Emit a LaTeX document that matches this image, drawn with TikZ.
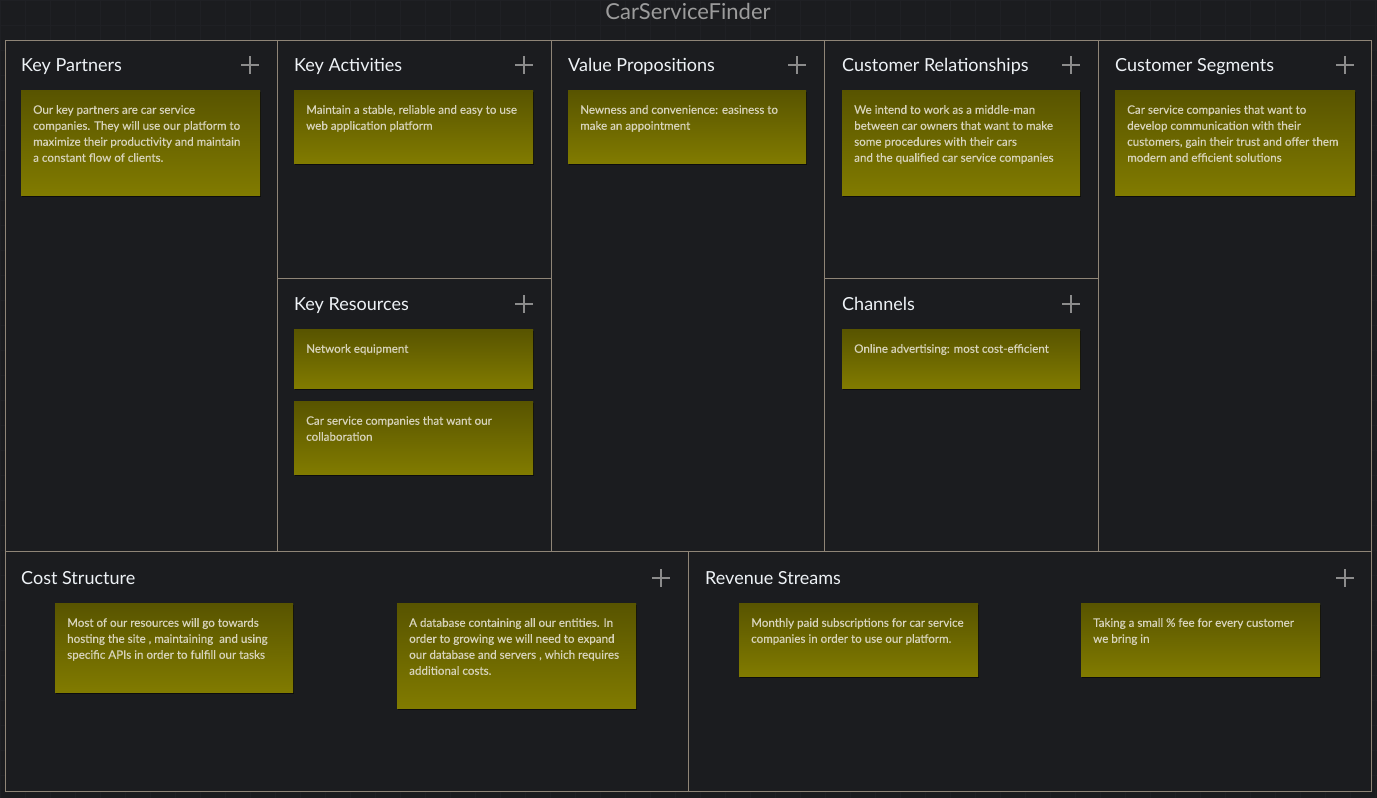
\documentclass[tikz,border=0pt]{standalone}
\usepackage{fontspec}
\setmainfont{Lato}
\newfontfamily\notefont[FakeBold=0.3]{Lato}
\usetikzlibrary{shadows}
\definecolor{bg}{HTML}{1B1C1F}
\definecolor{gridc}{HTML}{1F2024}
\definecolor{frame}{HTML}{8F8577}
\definecolor{titlec}{HTML}{EEF2F6}
\definecolor{headc}{HTML}{9C9C9C}
\definecolor{plusc}{HTML}{8C8C8C}
\definecolor{notetop}{HTML}{585400}
\definecolor{notebot}{HTML}{817B00}
\definecolor{notetxt}{HTML}{D8D4BC}
\tikzset{
  cell/.style={draw=frame, line width=0.9pt},
  sectitle/.style={anchor=base west, inner sep=0pt, text=titlec, font=\fontsize{18}{20}\selectfont},
  plussign/.style={draw=plusc, line width=1.8pt},
  notebox/.style={anchor=north west, inner sep=0pt, rectangle, top color=notetop, bottom color=notebot,
    drop shadow={shadow xshift=1pt, shadow yshift=-2pt, opacity=0.55, fill=black}},
  notetext/.style={anchor=north west, inner sep=0pt, xshift=12pt, yshift=-15pt, align=left,
    text=notetxt, font=\notefont\fontsize{11.6}{16}\selectfont},
}
\newcommand{\plusat}[2]{\draw[plussign] (#1-9,#2) -- (#1+9,#2); \draw[plussign] (#1,#2-9) -- (#1,#2+9);}
\begin{document}
\begin{tikzpicture}[x=1pt,y=-1pt]
\fill[bg] (0,0) rectangle (1377,798);
\useasboundingbox (0,0) rectangle (1377,798);
\draw[gridc, line width=0.5pt, step=25pt] (0,0) grid (1377,798);
\fill[bg] (5,40) rectangle (1371,791);
% title
\node[anchor=base, inner sep=0pt, text=headc, font=\fontsize{22}{24}\selectfont] (title) at (688,19) {CarServiceFinder};
% frame
\draw[cell] (5,40) rectangle (1371,791);
\draw[cell] (5,551) -- (1371,551);
\draw[cell] (277,40) -- (277,551);
\draw[cell] (551,40) -- (551,551);
\draw[cell] (824,40) -- (824,551);
\draw[cell] (1098,40) -- (1098,551);
\draw[cell] (277,278) -- (551,278);
\draw[cell] (824,278) -- (1098,278);
\draw[cell] (688,551) -- (688,791);
% section titles
\node[sectitle] (tkp) at (21,71) {Key Partners};
\node[sectitle] (tka) at (294,71) {Key Activities};
\node[sectitle] (tvp) at (568,71) {Value Propositions};
\node[sectitle] (tcr) at (842,71) {Customer Relationships};
\node[sectitle] (tcs) at (1115,71) {Customer Segments};
\node[sectitle] (tkr) at (294,310) {Key Resources};
\node[sectitle] (tch) at (842,310) {Channels};
\node[sectitle] (tco) at (21,584) {Cost Structure};
\node[sectitle] (trs) at (705,584) {Revenue Streams};
% plus signs
\plusat{250}{65}
\plusat{524}{65}
\plusat{797}{65}
\plusat{1071}{65}
\plusat{1345}{65}
\plusat{524}{304}
\plusat{1071}{304}
\plusat{661}{578}
\plusat{1345}{578}
% notes
\node[notebox, minimum width=239pt, minimum height=105pt] (kp) at (21,90) {};
\node[notetext] (kpt) at (kp.north west) {Our key partners are car service\\companies. They will use our platform to\\maximize their productivity and maintain\\a constant flow of clients.};
\node[notebox, minimum width=239pt, minimum height=73pt] (ka) at (294,90) {};
\node[notetext] (kat) at (ka.north west) {Maintain a stable, reliable and easy to use\\web application platform};
\node[notebox, minimum width=238pt, minimum height=73pt] (vp) at (568,90) {};
\node[notetext] (vpt) at (vp.north west) {Newness and convenience: easiness to\\make an appointment};
\node[notebox, minimum width=238pt, minimum height=105pt] (cr) at (842,90) {};
\node[notetext] (crt) at (cr.north west) {We intend to work as a middle-man\\between car owners that want to make\\some procedures with their cars\\and the qualified car service companies};
\node[notebox, minimum width=240pt, minimum height=105pt] (cs) at (1115,90) {};
\node[notetext] (cst) at (cs.north west) {Car service companies that want to\\develop communication with their\\customers, gain their trust and offer them\\modern and efficient solutions};
\node[notebox, minimum width=239pt, minimum height=59pt] (kr1) at (294,329) {};
\node[notetext] (kr1t) at (kr1.north west) {Network equipment};
\node[notebox, minimum width=239pt, minimum height=73pt] (kr2) at (294,401) {};
\node[notetext] (kr2t) at (kr2.north west) {Car service companies that want our\\collaboration};
\node[notebox, minimum width=238pt, minimum height=59pt] (ch) at (842,329) {};
\node[notetext] (cht) at (ch.north west) {Online advertising: most cost-efficient};
\node[notebox, minimum width=238pt, minimum height=89pt] (co1) at (55,603) {};
\node[notetext] (co1t) at (co1.north west) {Most of our resources will go towards\\hosting the site , maintaining~ and using\\specific APIs in order to fulfill our tasks};
\node[notebox, minimum width=239pt, minimum height=105pt] (co2) at (397,603) {};
\node[notetext] (co2t) at (co2.north west) {A database containing all our entities. In\\order to growing we will need to expand\\our database and servers , which requires\\additional costs.};
\node[notebox, minimum width=239pt, minimum height=73pt] (rs1) at (739,603) {};
\node[notetext] (rs1t) at (rs1.north west) {Monthly paid subscriptions for car service\\companies in order to use our platform.};
\node[notebox, minimum width=239pt, minimum height=73pt] (rs2) at (1081,603) {};
\node[notetext] (rs2t) at (rs2.north west) {Taking a small \% fee for every customer\\we bring in};
\end{tikzpicture}
\end{document}
